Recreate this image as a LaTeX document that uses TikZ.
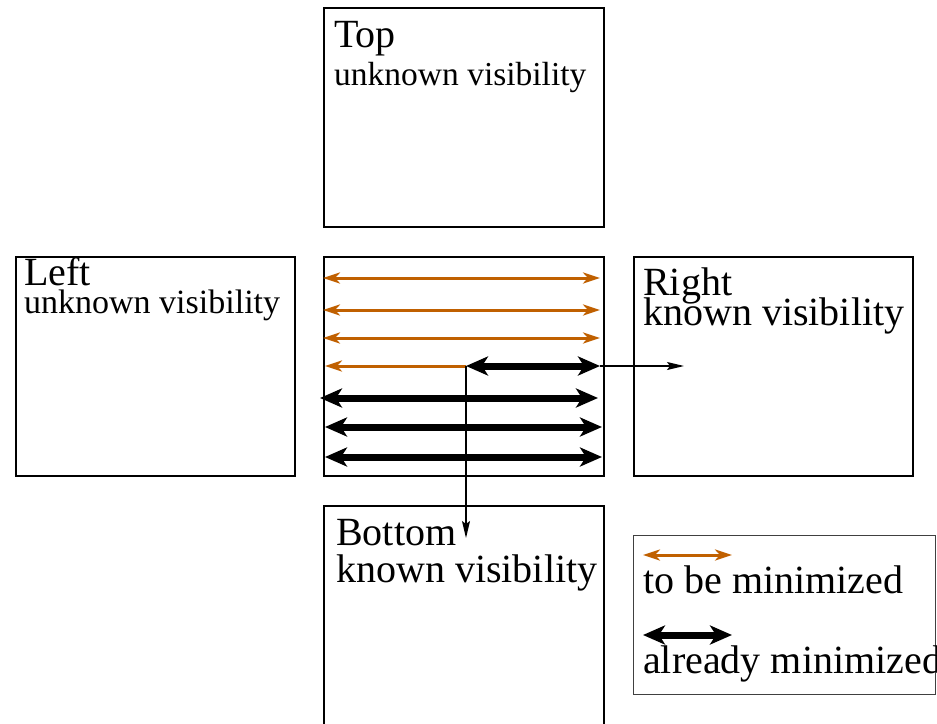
\documentclass[tikz,border=0pt]{standalone}
\usepackage{fontspec}
\setmainfont{Liberation Serif}
\usetikzlibrary{arrows.meta}
\definecolor{fo}{RGB}{192,96,0}
\begin{document}
\begin{tikzpicture}[x=1pt,y=-1pt,
  box/.style={draw,line width=1.8pt,inner sep=0pt,anchor=north west},
  big/.style={font=\fontsize{40}{40}\selectfont,anchor=base west,inner sep=0pt},
  small/.style={font=\fontsize{33.5}{34}\selectfont,anchor=base west,inner sep=0pt},
  tobe/.style={draw=fo,line width=3pt,
    {Stealth[length=17pt,width=11pt,inset=5pt]}-{Stealth[length=17pt,width=11pt,inset=5pt]}},
  already/.style={draw=black,line width=7pt,
    {Stealth[length=22pt,width=19pt,inset=6pt]}-{Stealth[length=22pt,width=19pt,inset=6pt]}},
  thinarrow/.style={line width=1.3pt,-{Stealth[length=17pt,width=8pt,inset=3pt]}}]
\useasboundingbox (0,0) rectangle (937,723);
\clip (0,0) rectangle (937,723);
% boxes
\node[box,minimum width=280pt,minimum height=219pt] (top) at (323,7) {};
\node[box,minimum width=280pt,minimum height=219pt] (center) at (323,256) {};
\node[box,minimum width=279pt,minimum height=219pt] (left) at (15,256) {};
\node[box,minimum width=279pt,minimum height=219pt] (right) at (633,256) {};
\node[box,minimum width=280pt,minimum height=240pt] (bottom) at (323,505) {};
\node[draw=black!75,line width=1pt,inner sep=0pt,anchor=north west,
      minimum width=302pt,minimum height=159pt] (legend) at (633,535) {};
% texts
\node[big] (ttop) at (334,47) {Top};
\node[small] (ttopv) at (334,85) {unknown visibility};
\node[big] (tleft) at (24,285) {Left};
\node[small,font=\fontsize{34}{34}\selectfont] (tleftv) at (24,313) {unknown visibility};
\node[big] (tright) at (643,295) {Right};
\node[big] (trightv) at (643,325) {known visibility};
\node[big] (tbot) at (336,545) {Bottom};
\node[big] (tbotv) at (336,582) {known visibility};
\node[big] (ltobe) at (643,593) {to be minimized};
\node[big] (lalr) at (643,673) {already minimized};
% center arrows
\coordinate (o1l) at (323,278); \coordinate (o1r) at (600,278);
\coordinate (o2l) at (323,310); \coordinate (o2r) at (600,310);
\coordinate (o3l) at (323,338); \coordinate (o3r) at (600,338);
\coordinate (o4l) at (325,366); \coordinate (split) at (466,366);
\coordinate (b0r) at (600,366);
\coordinate (b1l) at (320,398); \coordinate (b1r) at (598,398);
\coordinate (b2l) at (325,427); \coordinate (b2r) at (602,427);
\coordinate (b3l) at (325,457); \coordinate (b3r) at (602,457);
\coordinate (rtip) at (684,366);
\coordinate (dtip) at (466,538);
\draw[tobe] (o1l) -- (o1r);
\draw[tobe] (o2l) -- (o2r);
\draw[tobe] (o3l) -- (o3r);
\draw[draw=fo,line width=3pt,{Stealth[length=17pt,width=11pt,inset=5pt]}-] (o4l) -- (split);
\draw[already] (split) -- (b0r);
\draw[already] (b1l) -- (b1r);
\draw[already] (b2l) -- (b2r);
\draw[already] (b3l) -- (b3r);
\draw[thinarrow] (b0r) -- (rtip);
\draw[thinarrow] (split) -- (dtip);
% legend arrows
\coordinate (lo1) at (643,555); \coordinate (lo2) at (732,555);
\coordinate (lb1) at (643,635); \coordinate (lb2) at (732,635);
\draw[tobe] (lo1) -- (lo2);
\draw[already] (lb1) -- (lb2);
\end{tikzpicture}
\end{document}
